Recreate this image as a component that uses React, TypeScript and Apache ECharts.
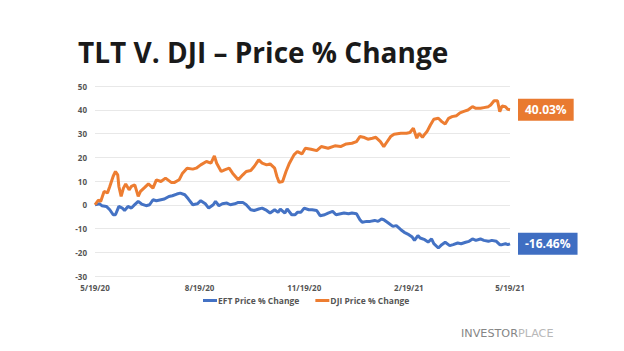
import React, { useEffect, useRef } from "react";
import * as echarts from "echarts";

const title = "TLT V. DJI – Price % Change";
const seriesNames = ["EFT Price % Change", "DJI Price % Change"];
const tickDays = [0, 92, 184, 276, 365];
const tickLabels = ["5/19/20", "8/19/20", "11/19/20", "2/19/21", "5/19/21"];

// days since 5/19/20
const djiDays = [0, 3, 5, 8, 11, 13, 16, 18, 20, 21, 23, 25, 27, 30, 32, 35, 38, 40, 44, 47, 51, 54, 58, 62, 67, 70, 74, 77, 81, 86, 89, 93, 98, 102, 105, 107, 111, 114, 118, 121, 126, 130, 133, 137, 140, 144, 147, 151, 154, 158, 160, 162, 165, 168, 171, 175, 178, 182, 185, 190, 195, 199, 205, 211, 216, 221, 226, 230, 233, 237, 240, 244, 247, 251, 254, 256, 260, 263, 269, 274, 277, 280, 283, 285, 288, 290, 292, 295, 298, 302, 305, 308, 311, 314, 318, 321, 325, 328, 332, 335, 339, 342, 346, 348, 351, 354, 356, 358, 361, 363, 365];
const djiValues = [0, 2, 1.4, 5.6, 5, 7.7, 12, 14, 12.6, 7.7, 3.5, 7, 8.7, 6.3, 7.7, 8.4, 3.5, 5.6, 7.4, 8.8, 7, 10.5, 9.8, 11.2, 9.4, 9.4, 10.5, 13.3, 15.4, 15, 15.4, 16.8, 18.2, 17.5, 20.6, 17.5, 14, 14.7, 15.4, 13.3, 10.5, 12.6, 14, 14.4, 16.1, 18.9, 17.5, 16.8, 17.2, 15.4, 11.9, 9.4, 9.8, 14, 17.5, 21, 22.4, 21.4, 23.8, 23.4, 22.8, 24.5, 23.8, 24.8, 24.5, 25.6, 25.9, 26.6, 28.7, 28.3, 27.6, 28, 28.4, 26.6, 24.5, 25.9, 28.7, 29.7, 30.1, 30.1, 30.4, 32.2, 28, 30.1, 28.4, 29.7, 30.8, 33.6, 36, 36.4, 35, 34, 36.4, 37.1, 37.5, 38.7, 39.4, 39.9, 41.3, 40.6, 40.6, 40.9, 41.3, 42, 43.8, 43.8, 39.2, 41.6, 41.3, 40.2, 40.03];

const eftDays = [0, 4, 6, 10, 13, 16, 18, 21, 24, 26, 29, 32, 34, 38, 41, 45, 48, 51, 54, 58, 61, 65, 68, 72, 75, 79, 82, 86, 90, 93, 97, 100, 104, 106, 109, 112, 116, 119, 123, 126, 130, 133, 137, 140, 144, 147, 151, 154, 158, 161, 163, 167, 169, 173, 176, 178, 181, 184, 188, 191, 195, 198, 202, 205, 209, 212, 216, 219, 223, 226, 230, 233, 235, 239, 242, 246, 249, 252, 254, 258, 262, 265, 269, 272, 276, 279, 281, 284, 286, 290, 293, 296, 298, 302, 305, 308, 312, 315, 319, 322, 326, 329, 332, 335, 339, 342, 346, 349, 353, 356, 358, 361, 363, 365];
const eftValues = [0, 0.4, -0.4, -0.7, -2.1, -4.2, -4.2, -0.7, -1.4, -2.4, -0.7, -1.4, -0.4, 1.4, 0.3, -0.4, 0, 2.1, 1.7, 2.1, 2.4, 3.5, 3.8, 4.5, 4.9, 4.2, 2.5, 0, 0.4, 1.7, 0.4, -1.4, 0, 1.4, -0.4, 0.4, 0.7, 0, 0.4, 1, 1, 0, -2.1, -2.4, -1.8, -1.4, -2.4, -3.5, -2.1, -3.2, -1.8, -3.5, -1.8, -4.2, -4.2, -3.2, -3.2, -1.4, -2.1, -2.1, -2.4, -4.6, -4.2, -3.5, -2.8, -4.2, -3.8, -3.5, -3.8, -3.5, -3.8, -6.3, -7.4, -7, -7, -6.6, -7, -6, -6.3, -7.7, -9.1, -8.8, -10.5, -11.6, -12.6, -13.6, -15, -13, -14, -14.7, -15.7, -14.4, -16.4, -18.2, -16.8, -15.8, -17.2, -16.8, -16.1, -16.4, -15.8, -15.4, -14.4, -15, -14.4, -15, -15.4, -15, -15.4, -16.8, -16.8, -16.4, -16.8, -16.46];

const BLUE = "#4472C4";
const ORANGE = "#ED7D31";

export default function App() {
  const ref = useRef<HTMLDivElement>(null);
  useEffect(() => {
    if (!ref.current) return;
    const chart = echarts.init(ref.current, undefined, { renderer: "svg" });
    const endLabel = (color: string) => ({
      show: true,
      formatter: (p: any) => p.value[1].toFixed(2) + "%",
      backgroundColor: color,
      color: "#fff",
      fontFamily: "Open Sans",
      fontWeight: "bold",
      fontSize: 12,
      padding: [5, 7, 5, 7],
      distance: 8,
    });
    chart.setOption({
      animation: false,
      backgroundColor: "#fff",
      title: {
        text: title,
        left: 73,
        top: 33,
        textStyle: { fontFamily: "Open Sans", fontWeight: "bold", fontSize: 28, color: "#1a1a1a" },
      },
      grid: { left: 95, right: 114, top: 86, bottom: 75 },
      legend: {
        bottom: 41,
        left: 198,
        icon: "rect",
        itemWidth: 14,
        itemHeight: 3,
        itemGap: 16,
        textStyle: { fontFamily: "Open Sans", fontWeight: "bold", fontSize: 8.5, color: "#555", padding: [0, 0, 0, -4] },
        data: seriesNames,
      },
      xAxis: {
        type: "value",
        min: 0,
        max: 365,
        interval: 92,
        axisLine: { show: false },
        axisTick: { show: false },
        splitLine: { show: false },
        axisLabel: {
          fontFamily: "Open Sans",
          fontWeight: "bold",
          fontSize: 8,
          color: "#555",
          margin: 7,
          showMaxLabel: true,
          formatter: (v: number) => {
            const i = tickDays.indexOf(Math.round(v));
            return i >= 0 ? tickLabels[i] : "";
          },
        },
      },
      yAxis: {
        type: "value",
        min: -30,
        max: 50,
        interval: 10,
        axisLine: { show: false },
        axisTick: { show: false },
        splitLine: { lineStyle: { color: "#e8e8e8", width: 1 } },
        axisLabel: { fontFamily: "Open Sans", fontWeight: "bold", fontSize: 8, color: "#555", margin: 8 },
      },
      series: [
        {
          name: seriesNames[0],
          type: "line",
          data: eftDays.map((d, i) => [d, eftValues[i]]),
          showSymbol: false,
          lineStyle: { color: BLUE, width: 3 },
          itemStyle: { color: BLUE },
          endLabel: endLabel("#3F6EC2"),
        },
        {
          name: seriesNames[1],
          type: "line",
          data: djiDays.map((d, i) => [d, djiValues[i]]),
          showSymbol: false,
          lineStyle: { color: ORANGE, width: 3 },
          itemStyle: { color: ORANGE },
          endLabel: endLabel("#E97A30"),
        },
      ],
      graphic: [
        {
          type: "text",
          left: 461,
          top: 328,
          style: {
            text: "{a|INVESTOR}{b|PLACE}",
            rich: {
              a: { fontFamily: "DejaVu Sans", fontSize: 11.2, fill: "#858585" },
              b: { fontFamily: "DejaVu Sans", fontSize: 11.2, fill: "#b8b8b8" },
            },
          },
        },
      ],
    });
    return () => chart.dispose();
  }, []);
  return (
    <div
      ref={ref}
      style={{ position: "fixed", left: 0, top: 0, width: 624, height: 351, background: "#fff" }}
    />
  );
}
